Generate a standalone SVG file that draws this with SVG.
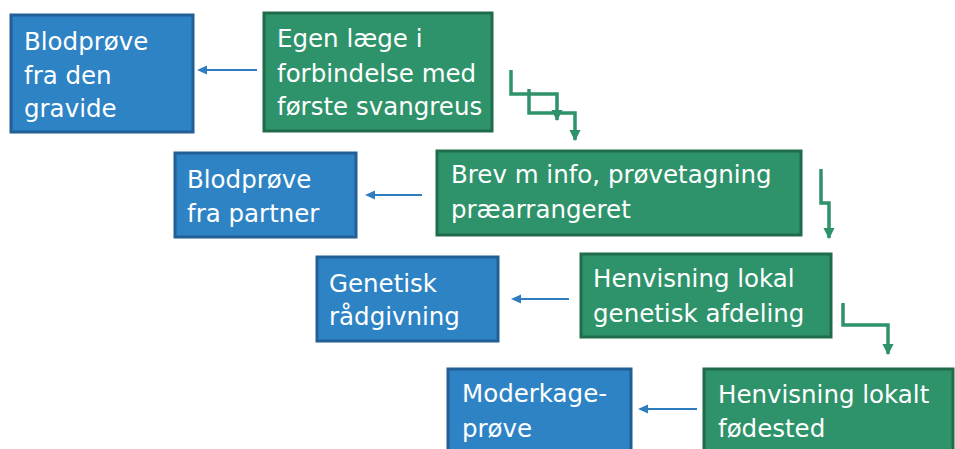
<svg xmlns="http://www.w3.org/2000/svg" width="955" height="449" viewBox="0 0 955 449">
<defs>
<style>
.b{fill:#2E83C5;stroke:#215F96;stroke-width:3}
.g{fill:#2E936A;stroke:#1F6B4B;stroke-width:3}
text{font-family:"DejaVu Sans",Verdana,sans-serif;font-size:24.5px;fill:#FFFFFF}
.ba{fill:none;stroke:#2E7DC0;stroke-width:2.2}
.bh{fill:#2E7DC0}
.ga{fill:none;stroke:#2E936A;stroke-width:3.5}
</style>
<marker id="gh" viewBox="0 0 10 10" refX="9" refY="5" markerWidth="3.2" markerHeight="3.2" orient="auto" markerUnits="strokeWidth">
<path d="M0,0 L10,5 L0,10 Z" fill="#2E936A"/>
</marker>
</defs>
<g id="connectors">
<path class="ba" d="M257,70 H203"/>
<path class="ba" d="M422,195 H371"/>
<path class="ba" d="M569,299 H517"/>
<path class="ba" d="M697,409 H644"/>
<path class="bh" d="M197,70 L207,65.5 L207,74.5 Z"/>
<path class="bh" d="M365,195 L375,190.5 L375,199.5 Z"/>
<path class="bh" d="M511,299 L521,294.5 L521,303.5 Z"/>
<path class="bh" d="M638,409 L648,404.5 L648,413.5 Z"/>
<path class="ga" d="M511,70 V94 H557 V120" marker-end="url(#gh)"/>
<path class="ga" d="M529,89 V113 H575 V140" marker-end="url(#gh)"/>
<path class="ga" d="M821,169 V203 H829 V238" marker-end="url(#gh)"/>
<path class="ga" d="M843,303 V325 H888 V354" marker-end="url(#gh)"/>
</g>
<g id="n1"><rect class="b" x="11" y="15" width="182" height="117"/><text x="24" y="50">Blodprøve</text><text x="24" y="84">fra den</text><text x="24" y="117">gravide</text></g>
<g id="n2"><rect class="g" x="264" y="13" width="228" height="118"/><text x="277" y="47">Egen læge i</text><text x="277" y="82">forbindelse med</text><text x="277" y="115">første svangreus</text></g>
<g id="n3"><rect class="b" x="175" y="153" width="181" height="84"/><text x="187" y="188">Blodprøve</text><text x="187" y="222">fra partner</text></g>
<g id="n4"><rect class="g" x="437" y="151" width="364" height="84"/><text x="451" y="183">Brev m info, prøvetagning</text><text x="451" y="218">præarrangeret</text></g>
<g id="n5"><rect class="b" x="317" y="257" width="181" height="84"/><text x="329" y="292">Genetisk</text><text x="329" y="325">rådgivning</text></g>
<g id="n6"><rect class="g" x="581" y="254" width="250" height="83"/><text x="593" y="287">Henvisning lokal</text><text x="593" y="322">genetisk afdeling</text></g>
<g id="n7"><rect class="b" x="448" y="369" width="183" height="90"/><text x="462" y="402">Moderkage-</text><text x="462" y="437">prøve</text></g>
<g id="n8"><rect class="g" x="704" y="369" width="249" height="90"/><text x="718" y="403">Henvisning lokalt</text><text x="718" y="437">fødested</text></g>
</svg>
